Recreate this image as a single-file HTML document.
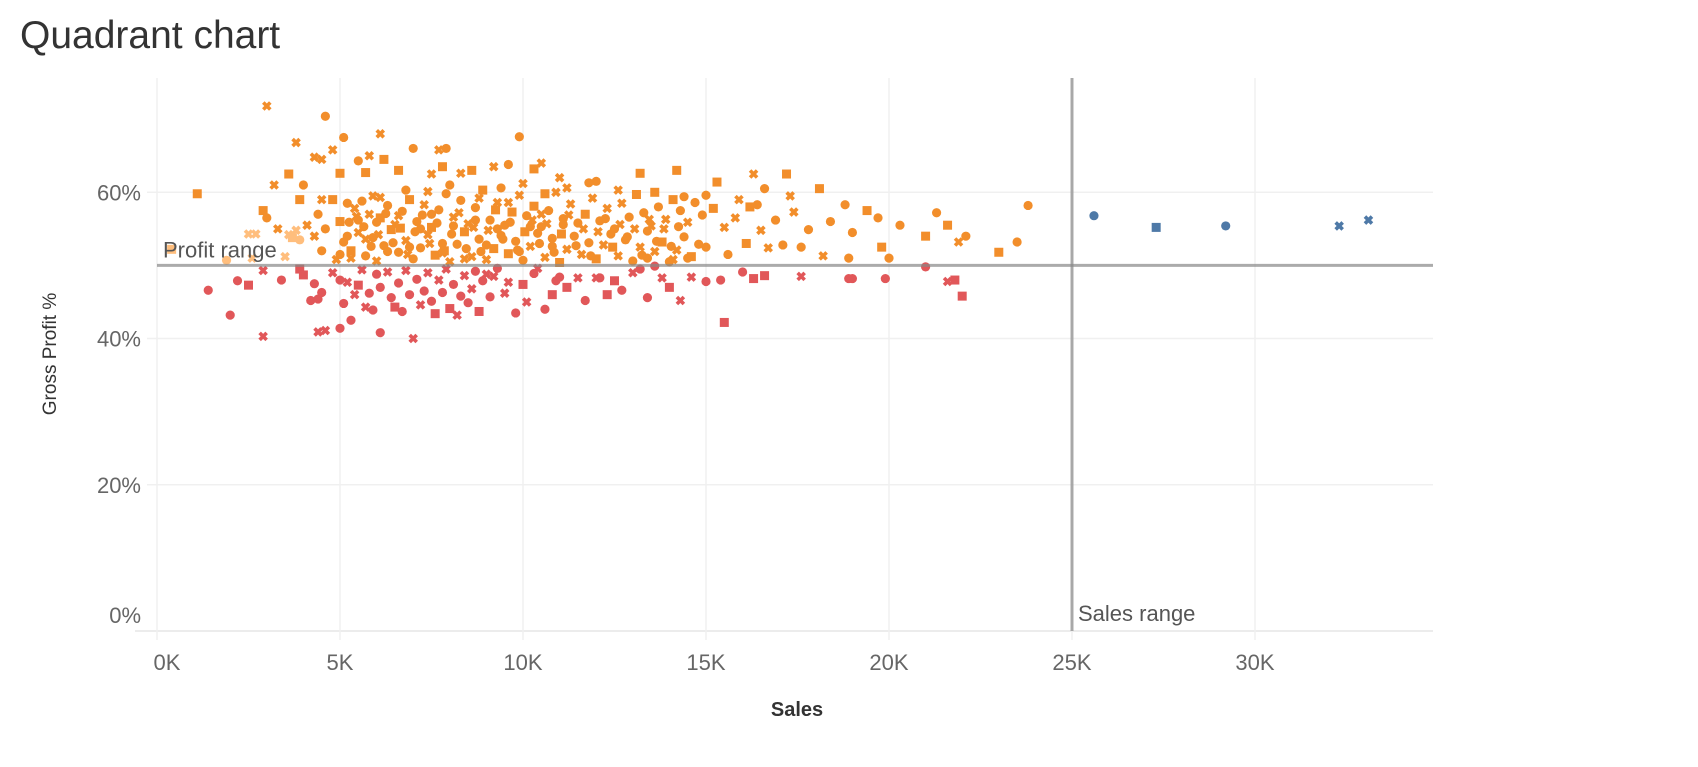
<!DOCTYPE html>
<html><head><meta charset="utf-8"><style>
html,body{margin:0;padding:0;background:#fff;}
body{width:1698px;height:762px;overflow:hidden;font-family:"Liberation Sans",sans-serif;}
svg text{font-family:"Liberation Sans",sans-serif;}
</style></head><body>
<svg id="chart" width="1698" height="762" viewBox="0 0 1698 762" xmlns="http://www.w3.org/2000/svg">
<text x="20" y="48" font-size="39" fill="#333">Quadrant chart</text>
<g id="grid"></g>
<g id="axes"></g>
<g id="marks"></g>
<g id="refs"></g>
<text transform="translate(56,354) rotate(-90)" text-anchor="middle" font-size="19" fill="#333">Gross Profit %</text>
<text x="797" y="716" text-anchor="middle" font-size="20" font-weight="bold" fill="#333">Sales</text>
</svg>
<script>
const xTicks=[0,5,10,15,20,25,30];
const xTickLabels=["0K","5K","10K","15K","20K","25K","30K"];
const yTicks=[0,20,40,60];
const yTickLabels=["0%","20%","40%","60%"];
const salesRef=25;
const profitRef=50;
// orange / red points (sales in K, gross profit %, shape)
const salesK=[3.0,4.6,3.8,5.1,6.1,7.0,7.7,7.9,9.9,4.3,4.5,4.8,5.0,5.5,5.8,5.7,6.2,6.6,7.5,7.8,8.3,8.6,9.2,9.6,10.5,10.3,11.0,12.0,13.2,14.2,16.3,17.2,15.3,16.6,18.1,17.3,18.8,19.4,19.7,20.3,21.3,21.6,22.1,21.9,21.0,23.5,23.8,23.0,20.0,18.2,18.9,17.6,17.1,16.7,16.1,15.6,15.0,14.5,14.1,13.4,19.8,
1.1,2.9,3.6,3.2,3.0,3.3,4.0,3.9,4.5,4.4,4.1,4.8,4.6,4.3,4.5,4.9,5.0,5.3,5.2,5.0,
5.2,5.4,5.6,5.8,5.9,6.1,6.3,6.5,6.7,6.9,7.1,7.3,7.5,7.7,7.9,8.1,8.3,8.5,8.7,8.9,9.1,9.3,9.5,9.7,9.9,10.1,10.3,10.5,10.7,10.9,11.1,11.3,11.5,11.7,11.9,12.1,12.3,12.5,12.7,12.9,13.1,13.3,13.5,13.7,13.9,14.1,14.3,14.5,14.7,14.9,15.2,15.5,15.8,16.2,16.5,16.9,17.4,17.8,18.4,19.0,
5.1,5.3,5.5,5.7,5.9,6.0,6.2,6.4,6.6,6.8,7.0,7.2,7.4,7.6,7.8,8.0,8.2,8.4,8.6,8.8,9.0,9.2,9.4,9.6,9.8,10.0,10.2,10.4,10.6,10.8,11.0,11.2,11.4,11.6,11.8,12.0,12.2,12.4,12.6,12.8,13.0,13.2,13.4,13.6,13.8,14.0,14.2,14.4,14.6,14.8,
5.25,5.45,5.65,5.85,6.05,6.25,6.45,6.65,6.85,7.05,7.25,7.45,7.65,7.85,8.05,8.25,8.45,8.65,8.85,9.05,9.25,9.45,9.65,9.85,10.05,10.25,10.45,10.65,10.85,11.05,11.25,11.45,11.65,11.85,12.05,12.25,12.45,12.65,12.85,13.05,13.25,13.45,13.65,13.85,14.05,14.25,
5.5,5.7,6.0,6.3,6.6,6.9,7.2,7.5,7.8,8.1,8.4,8.7,9.0,9.3,9.6,9.9,10.2,10.5,10.8,11.1,6.1,6.8,7.4,8.0,8.8,9.4,10.0,10.6,11.2,11.8,12.6,13.6,14.4,15.0,15.9,16.4,
1.4,2.0,2.2,2.5,2.9,2.9,3.4,3.9,4.0,4.2,4.3,4.4,4.4,4.6,4.5,4.8,5.0,5.0,5.1,5.2,5.3,5.4,5.5,5.6,5.7,5.8,5.9,6.0,6.1,6.1,6.3,6.4,6.5,6.6,6.7,6.8,6.9,7.0,7.1,7.2,7.3,7.4,7.5,7.6,7.7,7.8,7.9,8.0,8.1,8.2,8.3,8.4,8.5,8.6,8.7,8.8,8.9,9.0,9.1,9.2,9.3,9.5,9.6,9.8,10.0,10.1,10.3,10.4,10.6,10.8,10.9,11.0,11.2,11.5,11.7,12.0,12.1,12.5,12.7,13.0,13.2,13.4,13.6,13.8,14.0,14.3,14.6,15.0,15.4,15.5,16.0,16.6,17.6,18.9,19.0,19.9,21.0,21.6,21.8,22.0,16.3,12.3,
25.6,27.3,29.2,32.3,33.1];
const gpPct=[71.8,70.4,66.8,67.5,68.0,66.0,65.8,66.0,67.6,64.8,64.5,65.8,62.6,64.3,65.0,62.7,64.5,63.0,62.5,63.5,62.6,63.0,63.5,63.8,64.0,63.2,62.0,61.5,62.6,63.0,62.5,62.5,61.4,60.5,60.5,59.5,58.3,57.5,56.5,55.5,57.2,55.5,54.0,53.2,54.0,53.2,58.2,51.8,51.0,51.3,51.0,52.5,52.8,52.4,53.0,51.5,52.5,51.0,50.8,51.0,52.5,
59.8,57.5,62.5,61.0,56.5,55.0,61.0,59.0,59.0,57.0,55.5,59.0,55.0,54.0,52.0,50.8,51.5,51.0,54.0,56.0,
58.5,57.8,58.8,57.0,59.5,56.5,58.2,55.6,57.4,59.0,56.0,58.3,55.2,57.6,59.8,56.6,58.9,55.7,57.9,60.3,56.2,58.6,55.5,57.3,59.6,56.8,58.1,55.3,57.5,60.0,56.4,58.4,55.8,57.0,59.2,56.1,57.8,55.0,58.5,56.6,59.7,57.2,55.4,58.0,56.3,59.0,57.5,55.9,58.6,56.9,57.8,55.2,56.5,58.0,54.8,56.2,57.3,54.9,56.0,54.5,
53.2,52.0,54.5,51.3,53.8,50.6,52.7,54.9,51.8,53.4,50.9,52.4,54.2,51.4,53.0,50.5,52.9,54.6,51.2,53.6,50.8,52.3,54.1,51.6,53.3,50.7,52.6,54.4,51.1,53.7,50.4,52.2,54.0,51.5,53.1,50.9,52.8,54.3,51.3,53.5,50.6,52.5,54.7,51.9,53.2,50.5,52.1,53.9,51.2,52.9,
55.9,56.7,55.3,52.6,54.2,57.1,53.1,55.1,51.5,54.6,56.9,53.0,55.8,52.0,54.3,57.2,52.3,55.2,51.9,54.8,57.6,53.6,55.9,52.1,54.6,56.2,53.0,55.7,51.8,54.3,56.9,52.7,55.0,51.3,54.6,56.4,52.5,55.6,53.9,55.0,51.4,56.3,53.3,55.0,52.6,55.3,
56.2,53.6,55.9,51.9,56.8,52.5,55.0,57.0,51.7,55.4,50.9,56.2,52.8,55.0,58.6,51.9,55.3,57.0,52.6,55.6,59.3,60.3,60.1,61.0,59.2,60.6,61.2,59.8,60.6,61.3,60.3,60.0,59.4,59.6,59.0,58.3,
46.6,43.2,47.9,47.3,40.3,49.3,48.0,49.5,48.7,45.2,47.5,45.4,40.9,41.1,46.3,49.0,41.4,48.0,44.8,47.7,42.5,46.0,47.3,49.4,44.3,46.2,43.9,48.8,40.8,47.0,49.1,45.6,44.3,47.6,43.7,49.3,46.0,40.0,48.1,44.6,46.5,49.0,45.1,43.4,48.0,46.3,49.5,44.1,47.4,43.2,45.8,48.6,44.9,46.8,49.2,43.7,47.9,48.8,45.7,48.5,49.6,46.2,47.7,43.5,47.4,45.0,48.9,49.6,44.0,46.0,47.9,48.4,47.0,48.3,45.2,48.3,48.3,47.9,46.6,49.0,49.5,45.6,49.9,48.3,47.0,45.2,48.4,47.8,48.0,42.2,49.1,48.6,48.5,48.2,48.2,48.2,49.8,47.8,48.0,45.8,48.2,46.0,
56.8,55.2,55.4,55.4,56.2];
const shapeCodes="xcxcxcxccxxxscxsssxsxsxcxsxcssxsscsxcscccscxsccscxcccxscccxcs"+
"sssxcxcsxcxscxcxcxcs"+
"cxcxxscxcscxsccxcxcscxcsxcsccxcxcsxcxcxcscxcxscxccsxxsxcxccc"+
"csxccxcscxccxscxcsxcxscsccxcxcsxcxcsxcxccxcxscxcs"+
"ccxccxccsxccxcscxcxcxscccsxcxcsxcxcxcsxcxcxcxc"+
"ccxccxcccxcxcccxccxccxcxcxcxsxcxsccx"+
"ccccsxxcsscccxxcxcccxcxsxxcccccxcsccxcxcxcxcsxcxscxcxcxcscxcxcxxcsxcxcsccsxcxcscxcccxsxxccscsxccccxsssscs"+
"cxxxc";
// light-orange highlighted segment
const hlSales=[0.4,1.9,2.5,2.7,2.6,3.6,3.8,3.7,3.9,3.5];
const hlGp=[52.2,50.7,54.3,54.3,51.0,54.2,54.8,53.8,53.5,51.2];
const hlShapes="scxxxxxscx";

const NS="http://www.w3.org/2000/svg";
const X0=157,X1=1433,Y0=631,YT=78;
const xPerK=(1072-157)/25, yPerPct=(631-192.3)/60;
function xs(k){return X0+k*xPerK;}
function ys(p){return Y0-p*yPerPct;}
function mk(tag,parent){const e=document.createElementNS(NS,tag);parent.appendChild(e);return e;}

const grid=document.getElementById('grid');
const axes=document.getElementById('axes');
yTicks.forEach((t,i)=>{
  const l=mk('line',grid);
  
  
  l.setAttribute('x1',t===0?135:147);l.setAttribute('x2',X1);
  l.setAttribute('y1',ys(t));l.setAttribute('y2',ys(t));
  l.setAttribute('stroke',t===0?'#ececec':'#f0f0f0');l.setAttribute('stroke-width',t===0?2:1.5);
  const tx=mk('text',axes);
  
  
  tx.setAttribute('x',141);tx.setAttribute('y',t===0?ys(t)-8:ys(t)+8);
  tx.setAttribute('text-anchor','end');tx.setAttribute('font-size','22');tx.setAttribute('fill','#666');
  tx.textContent=yTickLabels[i];
});
xTicks.forEach((t,i)=>{
  const l=mk('line',grid);
  
  
  l.setAttribute('x1',xs(t));l.setAttribute('x2',xs(t));
  l.setAttribute('y1',YT);l.setAttribute('y2',640);
  l.setAttribute('stroke','#f0f0f0');l.setAttribute('stroke-width',1.5);
  const tx=mk('text',axes);
  
  
  tx.setAttribute('x',xs(t)+(t===0?10:0));tx.setAttribute('y',670);
  tx.setAttribute('text-anchor','middle');tx.setAttribute('font-size','22');tx.setAttribute('fill','#666');
  tx.textContent=xTickLabels[i];
});

const marks=document.getElementById('marks');
function drawMark(k,p,shape,color){
  const cx=xs(k),cy=ys(p);let e;
  if(shape==='s'){
    e=mk('rect',marks);
    e.setAttribute('x',cx-4.5);e.setAttribute('y',cy-4.5);e.setAttribute('width',9);e.setAttribute('height',9);
    e.setAttribute('fill',color);
  }else if(shape==='x'){
    e=mk('path',marks);
    e.setAttribute('d','M'+(cx-3.5)+' '+(cy-3.5)+'L'+(cx+3.5)+' '+(cy+3.5)+'M'+(cx+3.5)+' '+(cy-3.5)+'L'+(cx-3.5)+' '+(cy+3.5));
    e.setAttribute('stroke',color);e.setAttribute('stroke-width',3.6);e.setAttribute('fill','none');
  }else{
    e=mk('circle',marks);
    e.setAttribute('cx',cx);e.setAttribute('cy',cy);e.setAttribute('r',4.6);e.setAttribute('fill',color);
  }
  return e;
}
for(let i=0;i<salesK.length;i++){
  const k=salesK[i],p=gpPct[i];
  const color=k>=salesRef?'#4e79a7':(p<profitRef?'#e15759':'#f28e2b');
  const e=drawMark(k,p,shapeCodes[i]||'c',color);
  
  
}
for(let i=0;i<hlSales.length;i++){
  const e=drawMark(hlSales[i],hlGp[i],hlShapes[i]||'c','#ffbe7d');
  
  
}

const refs=document.getElementById('refs');
const hl=mk('line',refs);


hl.setAttribute('x1',X0);hl.setAttribute('x2',X1);hl.setAttribute('y1',ys(profitRef));hl.setAttribute('y2',ys(profitRef));
hl.setAttribute('stroke','#888');hl.setAttribute('stroke-opacity','0.7');hl.setAttribute('stroke-width',3);
const vl=mk('line',refs);


vl.setAttribute('x1',xs(salesRef));vl.setAttribute('x2',xs(salesRef));vl.setAttribute('y1',YT);vl.setAttribute('y2',Y0);
vl.setAttribute('stroke','#888');vl.setAttribute('stroke-opacity','0.7');vl.setAttribute('stroke-width',3);
const pt=mk('text',refs);


pt.setAttribute('x',163);pt.setAttribute('y',ys(profitRef)-8);pt.setAttribute('font-size','22');pt.setAttribute('fill','#555');
pt.textContent='Profit range';
const st=mk('text',refs);


st.setAttribute('x',xs(salesRef)+6);st.setAttribute('y',621);st.setAttribute('font-size','22');st.setAttribute('fill','#555');
st.textContent='Sales range';
</script>
</body></html>
